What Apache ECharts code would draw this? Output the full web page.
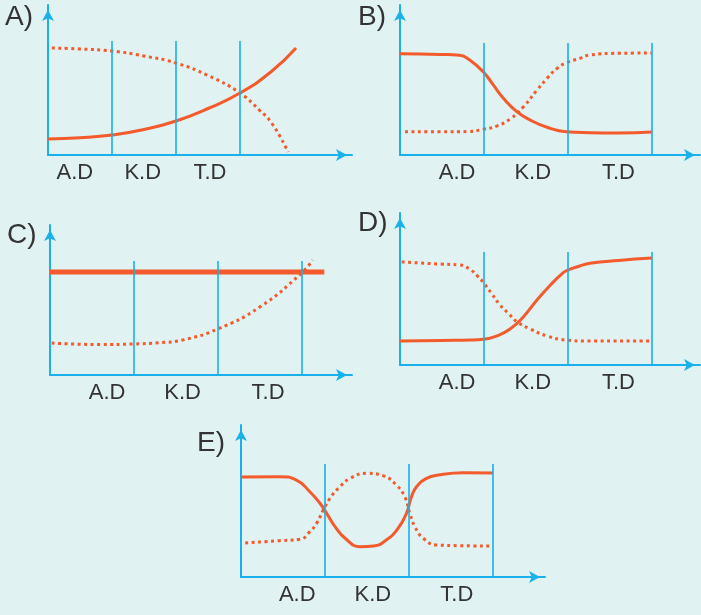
<!DOCTYPE html>
<html>
<head>
<meta charset="utf-8">
<script src="https://cdn.jsdelivr.net/npm/echarts@6/dist/echarts.min.js"></script>
<style>
html, body { margin: 0; padding: 0; background: #e0f2f2; }
#main { width: 701px; height: 615px; }
</style>
</head>
<body>
<div id="main"></div>
<script>
var zoneNames = ['A.D', 'K.D', 'T.D'];
var panelNames = ['A)', 'B)', 'C)', 'D)', 'E)'];
var dividers = [1, 2, 3];

// points are [x, y]: x counted in stages (1 = one stage), y in % of the axis height
var aSolid = [[0, 10.7], [0.5, 11.5], [1, 13.3], [1.5, 17], [2, 22.7], [2.5, 31], [3, 41.3], [3.5, 56], [3.875, 71.3]];
var aDotted = [[0.06, 71.3], [0.5, 70.7], [1, 69.3], [1.5, 66], [2, 61.3], [2.5, 53], [3, 41.3], [3.3, 30], [3.5, 21], [3.75, 2]];

var bSolid = [[0, 67.5], [0.48, 67], [0.71, 66.5], [0.83, 63.3], [0.99, 55.5], [1.11, 46.7], [1.23, 37.8], [1.39, 28.9], [1.55, 23.3], [1.75, 18.5], [1.98, 15.5], [2.26, 14.9], [2.6, 14.7], [3, 15.3]];
var bDotted = [[0.06, 15.5], [0.5, 15.5], [0.8, 15.6], [0.99, 17.1], [1.15, 19.3], [1.31, 24], [1.47, 32.2], [1.63, 43.3], [1.75, 51.1], [1.87, 57.8], [1.98, 61.5], [2.14, 64.4], [2.26, 66.7], [2.6, 67.8], [3, 68]];

var cSolid = [[0, 68.7], [3.27, 68.7]];
var cDotted = [[0.02, 21.3], [0.6, 20.3], [1, 20.7], [1.3, 21.5], [1.58, 23.3], [2, 30.7], [2.5, 45.3], [3, 68], [3.13, 76.7]];

var dSolid = [[0, 15.8], [0.5, 16.2], [0.83, 16.4], [0.99, 16.9], [1.15, 19.1], [1.31, 23.7], [1.47, 31.8], [1.63, 42.8], [1.79, 52.6], [1.9, 58.6], [1.98, 62], [2.14, 65.1], [2.26, 66.9], [2.6, 68.8], [3, 70.4]];
var dDotted = [[0.02, 67.8], [0.48, 66.4], [0.71, 65.8], [0.83, 63], [0.93, 58.1], [0.99, 54.4], [1.09, 47.1], [1.19, 39.5], [1.29, 34], [1.39, 28.5], [1.55, 23.7], [1.75, 19.1], [1.98, 16.4], [2.22, 15.8], [3, 15.8]];

var eSolid = [[0, 65.8], [0.46, 66], [0.66, 63.8], [0.82, 56.1], [0.94, 48.5], [1.02, 41.9], [1.12, 33.1], [1.24, 25.5], [1.42, 19.9], [1.58, 20.4], [1.73, 24.3], [1.87, 32], [1.97, 41.9], [2.03, 52.8], [2.09, 59.4], [2.21, 64.9], [2.35, 67.1], [2.65, 68.6], [3, 68.4]];
var eDotted = [[0.05, 22.4], [0.46, 23.9], [0.7, 24.8], [0.82, 29.8], [0.9, 35.3], [0.98, 44.1], [1.06, 51.8], [1.16, 58.4], [1.3, 64.9], [1.5, 68.2], [1.69, 66.7], [1.85, 60.5], [1.95, 52.8], [2.01, 41.9], [2.07, 33.1], [2.17, 25.5], [2.33, 21.1], [2.6, 20.6], [3, 20.4]];

var dividerTops = [76, 74.7, 76, 74.3, 74.3];

var blue = '#1ab0ec';
var orange = '#f35a2c';

// layout of each small chart: grid box in px, axis length in stages, where the stage names sit
var panels = [
    { solid: aSolid, dotted: aDotted, box: [48, 5, 304, 150], xMax: 4.75, labelAt: [0.42, 1.48, 2.53], title: [5, 17], solidWidth: 3 },
    { solid: bSolid, dotted: bDotted, box: [400, 5, 300, 150], xMax: 3.57, labelAt: [0.68, 1.58, 2.6], title: [358, 17], solidWidth: 3 },
    { solid: cSolid, dotted: cDotted, box: [50, 225, 302, 150], xMax: 3.6, labelAt: [0.68, 1.58, 2.6], title: [7, 235], solidWidth: 5 },
    { solid: dSolid, dotted: dDotted, box: [400, 213, 300, 152], xMax: 3.57, labelAt: [0.68, 1.58, 2.6], title: [358, 223], solidWidth: 3 },
    { solid: eSolid, dotted: eDotted, box: [241, 425, 304, 152], xMax: 3.62, labelAt: [0.67, 1.57, 2.57], title: [197, 443], solidWidth: 3 }
];

var grid = [], xAxis = [], yAxis = [], series = [], graphic = [];

panels.forEach(function (p, i) {
    grid.push({ left: p.box[0], top: p.box[1], width: p.box[2], height: p.box[3] });

    xAxis.push({
        type: 'value',
        gridIndex: i,
        min: 0,
        max: p.xMax,
        splitLine: { show: false },
        axisTick: { show: false },
        axisLine: {
            lineStyle: { color: blue, width: 2 },
            symbol: ['none', 'arrow'],
            symbolSize: [9, 11],
            symbolOffset: [0, -5]
        },
        axisLabel: {
            customValues: p.labelAt,
            margin: 7,
            color: '#333',
            fontSize: 22,
            fontFamily: 'Liberation Sans',
            formatter: (function (at) {
                return function (v) {
                    var k = at.indexOf(v);
                    return k >= 0 ? zoneNames[k] : '';
                };
            })(p.labelAt)
        }
    });

    yAxis.push({
        type: 'value',
        gridIndex: i,
        min: 0,
        max: 100,
        splitLine: { show: false },
        axisTick: { show: false },
        axisLabel: { show: false },
        axisLine: {
            lineStyle: { color: blue, width: 2 },
            symbol: ['none', 'arrow'],
            symbolSize: [9, 11],
            symbolOffset: [0, -5]
        }
    });

    series.push({
        type: 'line',
        xAxisIndex: i,
        yAxisIndex: i,
        data: [],
        z: 1,
        silent: true,
        markLine: {
            silent: true,
            symbol: ['none', 'none'],
            label: { show: false },
            lineStyle: { color: blue, type: 'solid', width: 1.6 },
            data: dividers.map(function (d) {
                return [{ coord: [d, 0] }, { coord: [d, dividerTops[i]] }];
            })
        }
    });

    series.push({
        type: 'line',
        xAxisIndex: i,
        yAxisIndex: i,
        data: p.dotted,
        showSymbol: false,
        smooth: 0.5,
        z: 3,
        lineStyle: { color: orange, width: 3, type: [3, 3.5] }
    });

    series.push({
        type: 'line',
        xAxisIndex: i,
        yAxisIndex: i,
        data: p.solid,
        showSymbol: false,
        smooth: 0.5,
        z: 4,
        lineStyle: { color: orange, width: p.solidWidth }
    });

    graphic.push({
        type: 'text',
        left: p.title[0],
        top: p.title[1] - 14,
        style: {
            text: panelNames[i],
            fill: '#333',
            font: '28px "Liberation Sans"'
        }
    });
});

var myChart = echarts.init(document.getElementById('main'));
myChart.setOption({
    backgroundColor: '#e0f2f2',
    animation: false,
    grid: grid,
    xAxis: xAxis,
    yAxis: yAxis,
    series: series,
    graphic: graphic
});
</script>
</body>
</html>
